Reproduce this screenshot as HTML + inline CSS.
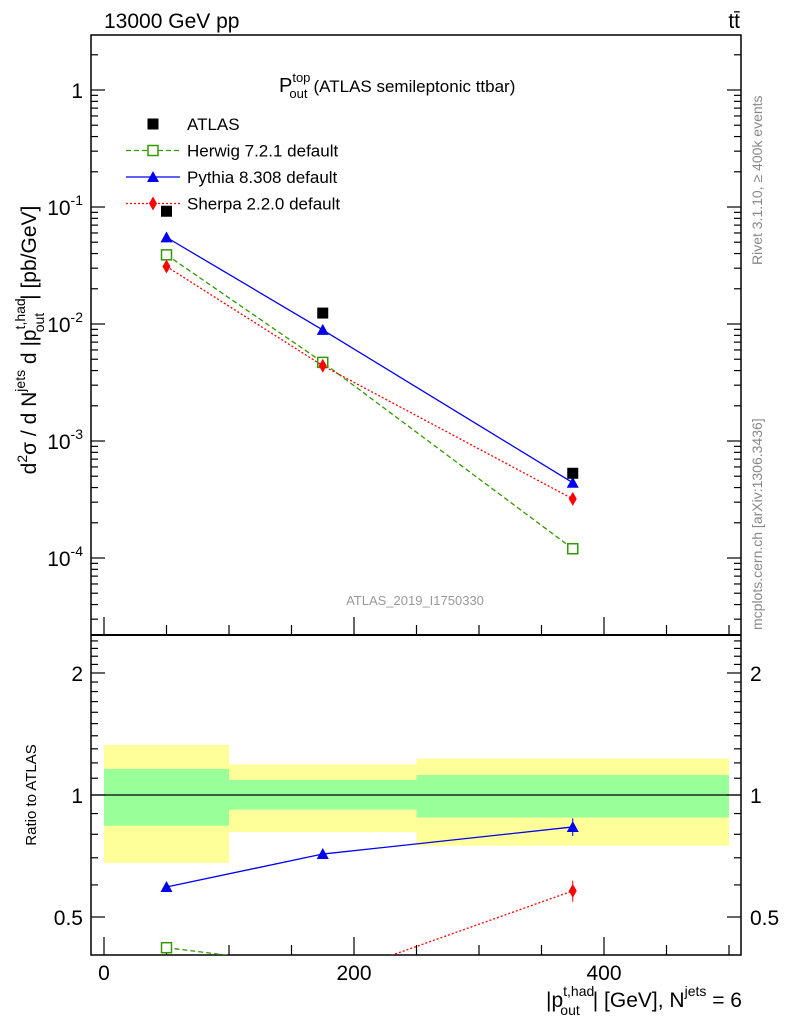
<!DOCTYPE html>
<html><head><meta charset="utf-8"><style>
body{margin:0;background:#fff;}
svg{display:block;font-family:"Liberation Sans",sans-serif;}
</style></head><body>
<svg id="c" width="786" height="1024" viewBox="0 0 786 1024">
<text x="104" y="28" font-size="21">13000 GeV pp</text>
<text x="740" y="28" font-size="21" text-anchor="end">tt̄</text>
<g id="bands"></g>
<g id="axes"></g>
<g id="marks"></g>
<text x="279" y="92" font-size="20">P<tspan font-size="13" dy="-10">top</tspan><tspan font-size="13" dx="-21" dy="16">out</tspan><tspan font-size="17" dx="6" dy="-6">(ATLAS semileptonic ttbar)</tspan></text>
<text x="415" y="605" font-size="13" fill="#999" text-anchor="middle">ATLAS_2019_I1750330</text>
<text transform="translate(762,265) rotate(-90)" font-size="14" fill="#888">Rivet 3.1.10, ≥ 400k events</text>
<text transform="translate(762,630) rotate(-90)" font-size="14" fill="#888">mcplots.cern.ch [arXiv:1306.3436]</text>
<text transform="translate(36,340) rotate(-90)" font-size="21" text-anchor="middle">d<tspan font-size="14" dy="-9">2</tspan><tspan dy="9">σ / d N</tspan><tspan font-size="14" dy="-11">jets</tspan><tspan dy="11"> d |p</tspan><tspan font-size="14" dy="-11">t,had</tspan><tspan font-size="14" dx="-34" dy="19">out</tspan><tspan dx="13" dy="-8">| [pb/GeV]</tspan></text>
<text transform="translate(36,795) rotate(-90)" font-size="15" text-anchor="middle">Ratio to ATLAS</text>
<text x="742" y="1007" font-size="21" text-anchor="end">|p<tspan font-size="14" dy="-11">t,had</tspan><tspan font-size="14" dx="-34" dy="19">out</tspan><tspan dx="13" dy="-8">| [GeV], N</tspan><tspan font-size="14" dy="-11">jets</tspan><tspan dy="11"> = 6</tspan></text>
<g id="legend"></g>
</svg>
<script>
const categories=[50,175,375];
const atlas=[0.092,0.0124,5.3e-4];
const herwig=[0.039,0.0047,1.2e-4];
const pythia=[0.055,0.0089,4.4e-4];
const sherpa=[0.031,0.0044,3.2e-4];
const ratioHerwig=[0.42,0.376,0.23];
const ratioPythia=[0.593,0.715,0.834];
const ratioSherpa=[0.25,0.35,0.58];
const binEdges=[0,100,250,500];
const yellowLo=[0.68,0.81,0.75];
const yellowHi=[1.33,1.19,1.23];
const greenLo=[0.84,0.92,0.88];
const greenHi=[1.16,1.09,1.12];
const xTicks=[0,200,400];
const yTicks=[1,0.1,0.01,0.001,0.0001];
const yTickLabels=["1","10^-1","10^-2","10^-3","10^-4"];
const rTicks=[0.5,1,2];

const NS="http://www.w3.org/2000/svg";
const L=91,R=741,T=35,M=635,B=955;
const X=v=>104+1.25*v;
const Y=v=>90-117*Math.log10(v);
const RY=v=>795-122*Math.log2(v);
function mk(p,tag,a){const e=document.createElementNS(NS,tag);for(const k in a)e.setAttribute(k,a[k]);p.appendChild(e);return e;}
const svg=document.getElementById('c');
const defs=mk(svg,'defs',{});
const cp1=mk(defs,'clipPath',{id:'cm'});mk(cp1,'rect',{x:L,y:T,width:R-L,height:M-T});
const cp2=mk(defs,'clipPath',{id:'cr'});mk(cp2,'rect',{x:L,y:M,width:R-L,height:B-M});

const bands=document.getElementById('bands');
for(let i=0;i<3;i++){
 const x0=X(binEdges[i]),x1=X(binEdges[i+1]);
 let r=mk(bands,'rect',{x:x0,y:RY(yellowHi[i]),width:x1-x0,height:RY(yellowLo[i])-RY(yellowHi[i]),fill:'#ffff99'});
 
 r=mk(bands,'rect',{x:x0,y:RY(greenHi[i]),width:x1-x0,height:RY(greenLo[i])-RY(greenHi[i]),fill:'#99ff99'});
 
}
mk(bands,'line',{x1:L,x2:R,y1:RY(1),y2:RY(1),stroke:'#000','stroke-width':1.2});

const ax=document.getElementById('axes');
mk(ax,'rect',{x:L,y:T,width:R-L,height:B-T,fill:'none',stroke:'#000','stroke-width':1.5});
mk(ax,'line',{x1:L,x2:R,y1:M,y2:M,stroke:'#000','stroke-width':2});
for(let v=0;v<=500;v+=50){
 const maj=xTicks.includes(v),len=maj?18:10;
 [M,B].forEach(y=>mk(ax,'line',{x1:X(v),x2:X(v),y1:y,y2:y-len,stroke:'#000','stroke-width':1.2}));
}
xTicks.forEach(v=>{const t=mk(ax,'text',{x:X(v),y:980,'font-size':21,'text-anchor':'middle'});t.textContent=v;
 });
for(let d=-5;d<=0;d++)for(let m=1;m<10;m++){
 const v=m*Math.pow(10,d),y=Y(v);if(y<T||y>M)continue;const len=m===1?14:7;
 mk(ax,'line',{x1:L,x2:L+len,y1:y,y2:y,stroke:'#000','stroke-width':1.2});
 mk(ax,'line',{x1:R,x2:R-len,y1:y,y2:y,stroke:'#000','stroke-width':1.2});
}
yTicks.forEach((v,i)=>{const t=mk(ax,'text',{x:83,y:Y(v)+8,'font-size':21,'text-anchor':'end'});
 const s=yTickLabels[i];if(s.includes('^')){const p=s.split('^');t.textContent=p[0];const ts=mk(t,'tspan',{'font-size':14,dy:-10});ts.textContent=p[1];}else t.textContent=s;
 });
for(let v=0.4;v<=2.5;v+=0.1){const y=RY(v);if(y<M||y>B)continue;
 const maj=rTicks.some(r=>Math.abs(r-v)<1e-6),len=maj?14:7;
 mk(ax,'line',{x1:L,x2:L+len,y1:y,y2:y,stroke:'#000','stroke-width':1.2});
 mk(ax,'line',{x1:R,x2:R-len,y1:y,y2:y,stroke:'#000','stroke-width':1.2});}
rTicks.forEach(v=>{[[83,'end'],[750,'start']].forEach(([x,a])=>{const t=mk(ax,'text',{x:x,y:RY(v)+8,'font-size':21,'text-anchor':a});t.textContent=v;
 });});

const mg=document.getElementById('marks');
const g1=mk(mg,'g',{'clip-path':'url(#cm)'}),g2=mk(mg,'g',{'clip-path':'url(#cr)'});
function marker(g,type,x,y,col){
 let e;
 if(type==='sq') e=mk(g,'rect',{x:x-5.5,y:y-5.5,width:11,height:11,fill:'#000'});
 if(type==='osq') e=mk(g,'rect',{x:x-5,y:y-5,width:10,height:10,fill:'#fff',stroke:col,'stroke-width':1.5});
 if(type==='tri') e=mk(g,'polygon',{points:`${x},${y-6} ${x-6},${y+5} ${x+6},${y+5}`,fill:col});
 if(type==='dia') e=mk(g,'polygon',{points:`${x},${y-7} ${x-4},${y} ${x},${y+7} ${x+4},${y}`,fill:col});
 
}
function series(g,vals,yf,col,dash,type,name){
 const p=mk(g,'polyline',{points:categories.map((c,i)=>X(c)+','+yf(vals[i])).join(' '),fill:'none',stroke:col,'stroke-width':1.3,'stroke-dasharray':dash});
 
 categories.forEach((c,i)=>marker(g,type,X(c),yf(vals[i]),col));
}
series(g1,herwig,Y,'#339900','5,3','osq','herwig-line');
series(g1,pythia,Y,'#0000ee','','tri','pythia-line');
series(g1,sherpa,Y,'#ff0000','2,2','dia','sherpa-line');
categories.forEach((c,i)=>marker(g1,'sq',X(c),Y(atlas[i]),'#000'));
series(g2,ratioHerwig,RY,'#339900','5,3','osq','herwig-ratio-line');
series(g2,ratioPythia,RY,'#0000ee','','tri','pythia-ratio-line');
series(g2,ratioSherpa,RY,'#ff0000','2,2','dia','sherpa-ratio-line');
mk(g2,'line',{x1:X(375),x2:X(375),y1:RY(ratioPythia[2]*1.05),y2:RY(ratioPythia[2]*0.95),stroke:'#0000ee'});
mk(g2,'line',{x1:X(375),x2:X(375),y1:RY(ratioSherpa[2]*1.06),y2:RY(ratioSherpa[2]*0.94),stroke:'#ff0000'});

const lg=document.getElementById('legend');
const entries=[['ATLAS','sq','#000',null],['Herwig 7.2.1 default','osq','#339900','5,3'],['Pythia 8.308 default','tri','#0000ee',''],['Sherpa 2.2.0 default','dia','#ff0000','2,2']];
entries.forEach((e,i)=>{const y=124+26.5*i;
 const g=mk(lg,'g',{});
 if(e[3]!==null) mk(g,'line',{x1:126,x2:180,y1:y,y2:y,stroke:e[2],'stroke-width':1.3,'stroke-dasharray':e[3]});
 marker(g,e[1],153,y,e[2]);
 const t=mk(g,'text',{x:187,y:y+6,'font-size':17});t.textContent=e[0];});
</script>
</body></html>
